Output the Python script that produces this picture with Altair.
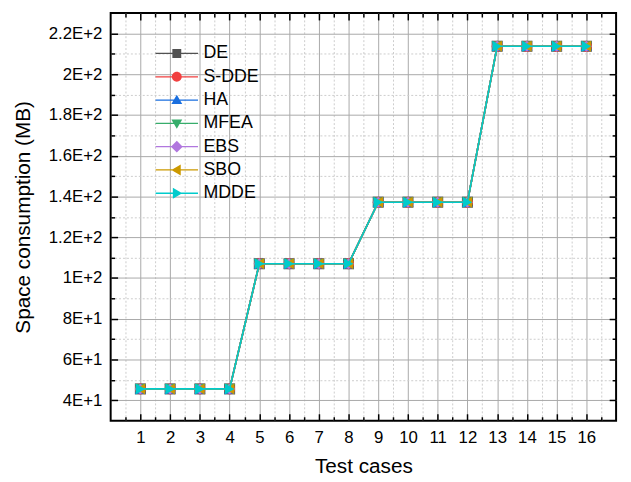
import altair as alt
import pandas as pd

# ---------------- data ----------------
series_names = ["DE", "S-DDE", "HA", "MFEA", "EBS", "SBO", "MDDE"]
series_colors = ["#515151", "#F14040", "#1A6FDF", "#37AD6B", "#B177DE", "#CC9900", "#00CBCC"]
marker_shapes = ["square", "circle", "triangle-up", "triangle-down", "diamond",
                 "triangle-left", "triangle-right"]
test_cases = [1, 2, 3, 4, 5, 6, 7, 8, 9, 10, 11, 12, 13, 14, 15, 16]

de_values   = [45.6, 45.6, 45.6, 45.6, 107.0, 107.0, 107.0, 107.0, 137.2, 137.2, 137.2, 137.2, 213.7, 213.7, 213.7, 213.7]
sdde_values = [45.6, 45.6, 45.6, 45.6, 107.0, 107.0, 107.0, 107.0, 137.2, 137.2, 137.2, 137.2, 213.7, 213.7, 213.7, 213.7]
ha_values   = [45.6, 45.6, 45.6, 45.6, 107.0, 107.0, 107.0, 107.0, 137.2, 137.2, 137.2, 137.2, 213.7, 213.7, 213.7, 213.7]
mfea_values = [45.6, 45.6, 45.6, 45.6, 107.0, 107.0, 107.0, 107.0, 137.2, 137.2, 137.2, 137.2, 213.7, 213.7, 213.7, 213.7]
ebs_values  = [45.6, 45.6, 45.6, 45.6, 107.0, 107.0, 107.0, 107.0, 137.2, 137.2, 137.2, 137.2, 213.7, 213.7, 213.7, 213.7]
sbo_values  = [45.6, 45.6, 45.6, 45.6, 107.0, 107.0, 107.0, 107.0, 137.2, 137.2, 137.2, 137.2, 213.7, 213.7, 213.7, 213.7]
mdde_values = [45.6, 45.6, 45.6, 45.6, 107.0, 107.0, 107.0, 107.0, 137.2, 137.2, 137.2, 137.2, 213.7, 213.7, 213.7, 213.7]
values_by_series = [de_values, sdde_values, ha_values, mfea_values, ebs_values, sbo_values, mdde_values]

x_major = [1, 2, 3, 4, 5, 6, 7, 8, 9, 10, 11, 12, 13, 14, 15, 16]
x_minor = [0.5, 1.5, 2.5, 3.5, 4.5, 5.5, 6.5, 7.5, 8.5, 9.5, 10.5, 11.5, 12.5, 13.5, 14.5, 15.5, 16.5]
y_major = [40, 60, 80, 100, 120, 140, 160, 180, 200, 220]
y_minor = [50, 70, 90, 110, 130, 150, 170, 190, 210]

# legend symbols: line segment + marker (custom paths, unit = sqrt(size)/2)
LINE = "M-4.3,-0.13H-0.4V0.13H-4.3Z M0.4,-0.13H4.3V0.13H0.4Z "
legend_paths = [
    LINE + "M-0.9,-0.9H0.9V0.9H-0.9Z",
    LINE + "M-1,0A1,1 0 1,1 1,0A1,1 0 1,1 -1,0Z",
    LINE + "M0,-1.1L1.1,0.8H-1.1Z",
    LINE + "M0,1.1L-1.1,-0.8H1.1Z",
    LINE + "M0,-1.2L1.2,0L0,1.2L-1.2,0Z",
    LINE + "M-1.1,0L0.8,-1.1V1.1Z",
    LINE + "M1.1,0L-0.8,1.1V-1.1Z",
]

rows = []
for name, vals in zip(series_names, values_by_series):
    for c, v in zip(test_cases, vals):
        rows.append({"series": name, "case": c, "value": v})
df = pd.DataFrame(rows)

# ---------------- layout ----------------
W, H = 512, 413
FONT = "Liberation Sans"
x_scale = alt.Scale(domain=[0, 17], nice=False, zero=False)
y_scale = alt.Scale(domain=[30, 230], nice=False, zero=False)

base = alt.Chart(df)


def x_layer(axis):
    return base.mark_point(opacity=0).encode(
        x=alt.X("case:Q", scale=x_scale, axis=axis))


def y_layer(axis):
    return base.mark_point(opacity=0).encode(
        y=alt.Y("value:Q", scale=y_scale, axis=axis))


tick_common = dict(labels=False, domain=False, grid=False, title=None,
                   tickColor="black", tickWidth=1.5)

x_main = x_layer(alt.Axis(
    orient="bottom", values=x_major, grid=True, gridColor="#a9a9a9", gridWidth=1,
    ticks=False, tickSize=0, domain=False, format="d",
    labelFont=FONT, labelFontSize=17, labelColor="black", labelPadding=9, labelFlush=False,
    title="Test cases", titleFont=FONT, titleFontSize=21, titleFontWeight="normal",
    titleColor="black", titlePadding=10))
x_minor_grid = x_layer(alt.Axis(
    values=x_minor, grid=True, gridColor="#cccccc", gridDash=[2, 2], gridWidth=1,
    ticks=False, labels=False, domain=False, title=None))
x_ticks = [
    x_layer(alt.Axis(orient="top", offset=-H, values=x_major, tickSize=7, **tick_common)),
    x_layer(alt.Axis(orient="top", offset=-H, values=x_minor, tickSize=4, **tick_common)),
    x_layer(alt.Axis(orient="bottom", offset=-H, values=x_major, tickSize=7, **tick_common)),
    x_layer(alt.Axis(orient="bottom", offset=-H, values=x_minor, tickSize=4, **tick_common)),
]

label_expr = ("format(datum.value / pow(10, floor(log(datum.value) / LN10 + 1e-9)), '~g')"
              " + 'E+' + floor(log(datum.value) / LN10 + 1e-9)")
y_main = y_layer(alt.Axis(
    orient="left", values=y_major, grid=True, gridColor="#a9a9a9", gridWidth=1,
    ticks=False, tickSize=0, domain=False, labelExpr=label_expr,
    labelFont=FONT, labelFontSize=17, labelColor="black", labelPadding=9,
    title="Space consumption (MB)", titleFont=FONT, titleFontSize=21,
    titleFontWeight="normal", titleColor="black", titlePadding=15))
y_minor_grid = y_layer(alt.Axis(
    values=y_minor, grid=True, gridColor="#cccccc", gridDash=[2, 2], gridWidth=1,
    ticks=False, labels=False, domain=False, title=None))
y_ticks = [
    y_layer(alt.Axis(orient="right", offset=-W, values=y_major, tickSize=7, **tick_common)),
    y_layer(alt.Axis(orient="right", offset=-W, values=y_minor, tickSize=4, **tick_common)),
    y_layer(alt.Axis(orient="left", offset=-W, values=y_major, tickSize=7, **tick_common)),
    y_layer(alt.Axis(orient="left", offset=-W, values=y_minor, tickSize=4, **tick_common)),
]

series_layers = []
for name, col, shp in zip(series_names, series_colors, marker_shapes):
    series_layers.append(
        base.transform_filter(alt.datum.series == name).mark_line(
            color=col, strokeWidth=1.6,
            point=alt.OverlayMarkDef(shape=shp, filled=True, size=125, color=col, opacity=1),
        ).encode(
            x=alt.X("case:Q", scale=x_scale, axis=None),
            y=alt.Y("value:Q", scale=y_scale, axis=None),
        )
    )

legend_props = dict(
    title=None, orient="none", legendX=58, legendY=32, padding=0,
    symbolSize=100, symbolStrokeWidth=0, symbolOpacity=1,
    labelFont=FONT, labelFontSize=18, labelColor="black", labelOffset=18,
    rowPadding=5.6,
)
legend_layer = base.mark_point(opacity=0, filled=True).encode(
    x=alt.X("case:Q", scale=x_scale, axis=None),
    y=alt.Y("value:Q", scale=y_scale, axis=None),
    color=alt.Color("series:N", scale=alt.Scale(domain=series_names, range=series_colors),
                    legend=alt.Legend(**legend_props)),
    shape=alt.Shape("series:N", scale=alt.Scale(domain=series_names, range=legend_paths),
                    legend=alt.Legend(**legend_props)),
)

chart = alt.layer(
    x_minor_grid, y_minor_grid, x_main, y_main,
    *series_layers,
    *x_ticks, *y_ticks,
    legend_layer,
).resolve_axis(
    x="independent", y="independent"
).properties(
    width=W, height=H,
    autosize="none",
    padding={"left": 104, "top": 2, "right": 7, "bottom": 57},
).configure_view(
    stroke="black", strokeWidth=2
)

chart.save("out.html", embed_options={"renderer": "svg", "actions": False})
